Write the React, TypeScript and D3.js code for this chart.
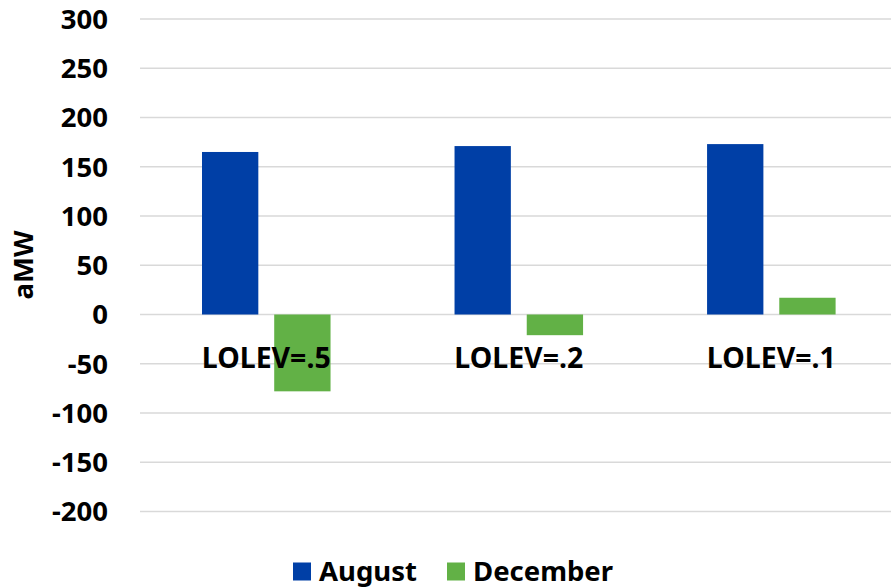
import React from "react";
import * as d3 from "d3";

const categories = ["LOLEV=.5", "LOLEV=.2", "LOLEV=.1"];
const seriesNames = ["August", "December"];
const august = [165, 171, 173];
const december = [-78, -21, 17];
const yTicks = [-200, -150, -100, -50, 0, 50, 100, 150, 200, 250, 300];
const colors = ["#003FA6", "#62B146"];

const W = 891;
const H = 587;
const FONT = "'Noto Sans', 'Open Sans', sans-serif";

export default function App() {
  const x0 = d3.scaleBand<string>().domain(categories).range([140, 897.6]).paddingInner(0).paddingOuter(0);
  const groupPad = 62;
  const x1 = d3
    .scaleBand<string>()
    .domain(seriesNames)
    .range([groupPad, x0.bandwidth() - groupPad])
    .paddingInner(0.22)
    .paddingOuter(0);
  const y = d3.scaleLinear().domain([-200, 300]).range([511.5, 19]);
  const values = [august, december];

  return (
    <svg width={W} height={H} style={{ position: "absolute", left: 0, top: 0, background: "#fff" }}>
      {yTicks.map((t) => (
        <g key={t}>
          <line x1={140} x2={W} y1={y(t)} y2={y(t)} stroke="#D9D9D9" strokeWidth={1.5} />
          <text
            x={108}
            y={y(t)}
            dy="0.36em"
            textAnchor="end"
            fontFamily={FONT}
            fontWeight={700}
            fontSize={27.5}
            fill="#000"
          >
            {t}
          </text>
        </g>
      ))}
      {categories.map((c, i) =>
        seriesNames.map((s, j) => {
          const v = values[j][i];
          const bx = (x0(c) as number) + (x1(s) as number);
          return (
            <rect
              key={c + s}
              x={bx}
              y={Math.min(y(v), y(0))}
              width={x1.bandwidth()}
              height={Math.abs(y(v) - y(0))}
              fill={colors[j]}
            />
          );
        })
      )}
      {categories.map((c) => (
        <text
          key={c}
          x={(x0(c) as number) + x0.bandwidth() / 2}
          y={367.5}
          textAnchor="middle"
          fontFamily={FONT}
          fontWeight={700}
          fontSize={28.5}
          fill="#000"
        >
          {c}
        </text>
      ))}
      <text
        transform={`translate(32.5,265) rotate(-90)`}
        textAnchor="middle"
        fontFamily={FONT}
        fontWeight={700}
        fontSize={27.5}
        fill="#000"
      >
        aMW
      </text>
      {seriesNames.map((s, j) => {
        const lx = [293, 447][j];
        return (
          <g key={s}>
            <rect x={lx} y={562.5} width={18} height={18} fill={colors[j]} />
            <text x={lx + 26} y={580.5} fontFamily={FONT} fontWeight={700} fontSize={27.5} fill="#000">
              {s}
            </text>
          </g>
        );
      })}
    </svg>
  );
}
